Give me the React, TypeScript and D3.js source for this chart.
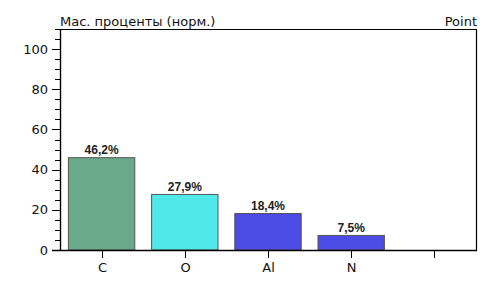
import * as React from "react";
import { scaleBand, scaleLinear, range } from "d3";

const categories = ["C", "O", "Al", "N", ""];
const values = [46.2, 27.9, 18.4, 7.5, null];
const valueLabels = ["46,2%", "27,9%", "18,4%", "7,5%", ""];
const barColors = ["#6aaa8a", "#50e8e8", "#4b4be6", "#4b4be6", "#ffffff"];
const yMajorTicks = [0, 20, 40, 60, 80, 100];
const yTitle = "Мас. проценты (норм.)";
const rightTitle = "Point";

const W = 491;
const H = 293;
const left = 60;
const right = 476;
const top = 29;
const bottom = 250;
const font = "DejaVu Sans, Verdana, sans-serif";

export default function App() {
    const x = scaleBand<string>()
        .domain(categories.map((c, i) => i + ":" + c))
        .range([left, right])
        .paddingInner(0.19)
        .paddingOuter(0.095);
    const band = scaleBand<string>()
        .domain(categories.map((c, i) => i + ":" + c))
        .range([left, right]);
    const y = scaleLinear().domain([0, 110]).range([bottom, top]);
    const minor = range(0, 111, 5).filter(v => v % 20 !== 0);

    return (
        <svg width={W} height={H} style={{ position: "absolute", left: 0, top: 0, background: "#fff" }}>
            <rect width={W} height={H} fill="#fff" />
            {/* bars */}
            {categories.map((c, i) => {
                const v = values[i];
                if (v == null) return null;
                const key = i + ":" + c;
                const bx = x(key)!;
                return (
                    <g key={key}>
                        <rect x={bx + 0.5} y={y(v) + 0.5} width={x.bandwidth() - 1} height={bottom - y(v) - 0.5}
                            fill={barColors[i]} stroke="#555" strokeWidth={1} />
                        <text x={bx + x.bandwidth() / 2} y={y(v) - 3} textAnchor="middle"
                            fontFamily="Liberation Sans, Arial, sans-serif" fontWeight="bold" fontSize={12}
                            fill="#222">{valueLabels[i]}</text>
                    </g>
                );
            })}
            {/* frame */}
            <path d={`M${left + 0.5},${top + 0.5}H${right + 0.5}V${bottom + 0.5}`} fill="none" stroke="#000" strokeWidth={1.2} />
            <line x1={left + 0.5} x2={left + 0.5} y1={top} y2={bottom + 1} stroke="#000" strokeWidth={1.4} />
            <line x1={left - 8} x2={right + 1} y1={bottom + 0.5} y2={bottom + 0.5} stroke="#000" strokeWidth={1.4} />
            {/* y ticks */}
            {yMajorTicks.map(t => (
                <g key={t}>
                    <line x1={left - 8} x2={left} y1={Math.round(y(t)) + 0.5} y2={Math.round(y(t)) + 0.5} stroke="#000" />
                    <text x={left - 12} y={y(t) + 4.5} textAnchor="end" fontFamily={font} fontSize={13} fill="#111">{t}</text>
                </g>
            ))}
            {minor.map(t => (
                <line key={t} x1={left - 5} x2={left} y1={Math.round(y(t)) + 0.5} y2={Math.round(y(t)) + 0.5} stroke="#000" />
            ))}
            {/* x ticks */}
            {categories.map((c, i) => {
                const key = i + ":" + c;
                const cx = Math.round(band(key)! + band.bandwidth() / 2) + 0.5;
                return (
                    <g key={key}>
                        <line x1={cx} x2={cx} y1={bottom} y2={bottom + 8} stroke="#000" />
                        <text x={cx} y={bottom + 22} textAnchor="middle" fontFamily={font} fontSize={13} fill="#111">{c}</text>
                    </g>
                );
            })}
            <text x={left} y={top - 3} fontFamily={font} fontSize={13} fill="#111">{yTitle}</text>
            <text x={right + 1} y={top - 3} textAnchor="end" fontFamily={font} fontSize={13} fill="#111">{rightTitle}</text>
        </svg>
    );
}
